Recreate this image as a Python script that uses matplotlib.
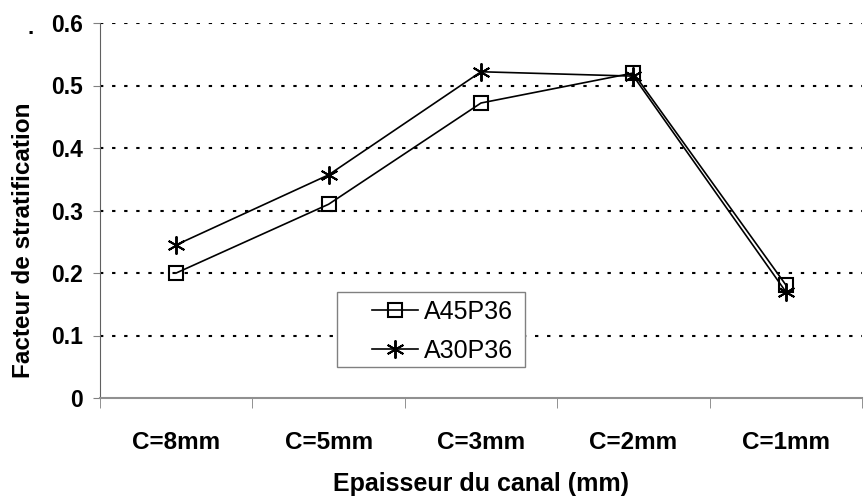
import numpy as np
import matplotlib.pyplot as plt
from matplotlib.patches import Rectangle

# Données
categories = ['C=8mm', 'C=5mm', 'C=3mm', 'C=2mm', 'C=1mm']
a45p36 = [0.200, 0.310, 0.472, 0.520, 0.181]
a30p36 = [0.245, 0.357, 0.522, 0.515, 0.170]
yticks = [0, 0.1, 0.2, 0.3, 0.4, 0.5, 0.6]

plt.rcParams['font.family'] = ['Liberation Sans', 'DejaVu Sans']

W, H = 865, 496
fig = plt.figure(figsize=(W / 100, H / 100), dpi=100)
ax = fig.add_axes([100 / W, 1 - 398 / H, 762 / W, 375 / H])

x = np.arange(len(categories))
asterisk = (6, 2, 0)

# grille horizontale pointillée
for yv in yticks[1:]:
    ax.axhline(yv, color='black', lw=1.5, dashes=(1.6, 4.2), zorder=1)

ax.plot(x, a45p36, color='black', lw=1.2, marker='s', markersize=10.5,
        markerfacecolor='none', markeredgecolor='black', markeredgewidth=1.5,
        label='A45P36', zorder=3)
ax.plot(x, a30p36, color='black', lw=1.2, marker=asterisk, markersize=13,
        markeredgewidth=1.4, label='A30P36', zorder=3)

ax.set_xlim(-0.5, -0.5 + 762 / 157.5)
ax.set_ylim(0, 0.6)

ax.set_yticks(yticks)
ax.set_yticklabels(['0', '0.1', '0.2', '0.3', '0.4', '0.5', '0.6'],
                   fontsize=16.5, fontweight='bold')
ax.set_xticks(x)
ax.set_xticklabels(categories, fontsize=17.5, fontweight='bold')
ax.set_xticks(np.arange(len(categories) + 1) - 0.5, minor=True)
ax.tick_params(axis='x', which='major', length=0, pad=24)
ax.tick_params(axis='x', which='minor', length=7, color='#808080', direction='out')
ax.tick_params(axis='y', length=5, color='#808080', direction='out', pad=7)

for s in ['top', 'right']:
    ax.spines[s].set_visible(False)
ax.spines['left'].set_color('#606060')
ax.spines['bottom'].set_color('#909090')
ax.spines['bottom'].set_linewidth(1.5)

ax.set_xlabel('Epaisseur du canal (mm)', fontsize=18, fontweight='bold', labelpad=13)
ax.set_ylabel('Facteur de stratification', fontsize=17.5, fontweight='bold')
ax.yaxis.set_label_coords(-(100 - 35) / 762, (398 - 240) / 375)
fig.text(31 / W, 1 - 39 / H, '.', fontsize=16, fontweight='bold',
         ha='center', va='bottom')

# cadre de la légende
ax.add_patch(Rectangle((337 / W, 1 - 367 / H), (525 - 337) / W, 75 / H,
                       transform=fig.transFigure, facecolor='white',
                       edgecolor='#808080', lw=1.0, zorder=4, clip_on=False))
leg = ax.legend(loc='upper left', bbox_to_anchor=(372 / W, 1 - 300 / H),
                bbox_transform=fig.transFigure, fontsize=18, frameon=False,
                handlelength=1.84, borderpad=0, labelspacing=0.6,
                handletextpad=0.25, borderaxespad=0)
leg.set_zorder(5)

fig.savefig('out.png', dpi=100)
